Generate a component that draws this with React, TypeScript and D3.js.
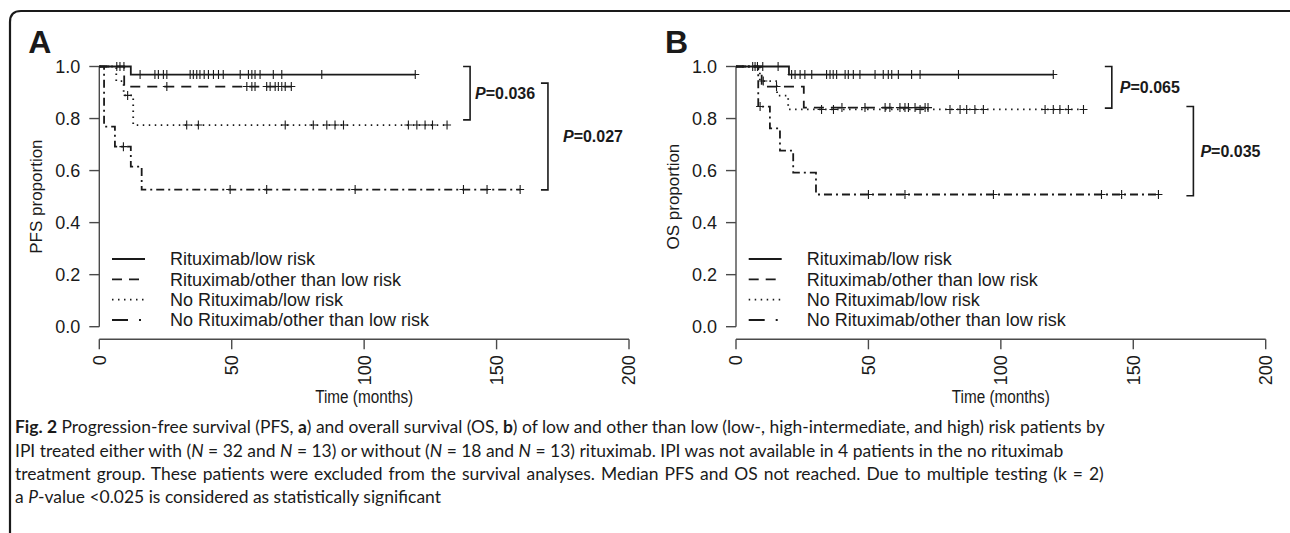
import React, { useLayoutEffect, useRef, useState } from 'react';
import * as d3 from 'd3';

const W = 1290;
const H = 533;

const timeTicks = [0, 50, 100, 150, 200];
const propTicks = [0, 0.2, 0.4, 0.6, 0.8, 1.0];
const groupLabels = [
  'Rituximab/low risk',
  'Rituximab/other than low risk',
  'No Rituximab/low risk',
  'No Rituximab/other than low risk',
];
const curveDash = ['none', '10,7', '1.5,4.5', '8,4,2,4'];
const legendDash = ['none', '10,7', '1.5,4.5', '16,11,2,11'];

// ---- PFS (panel A) ----
const pfsRLowTimes = [11.9];
const pfsRLowSurv = [0.969];
const pfsRLowCens = [6.6, 7.8, 9.3, 15.4, 21, 22.3, 24.2, 25.5, 34.3, 35.5, 36.8, 38, 39.6, 41.2, 43.1, 45, 46.8, 53.2, 56.3, 57.6, 58.8, 60.7, 65.7, 68.9, 84, 119.3];

const pfsROtherTimes = [9.4];
const pfsROtherSurv = [0.923];
const pfsROtherCens = [25.5, 55.7, 57.6, 58.8, 63.2, 64.5, 66.4, 67.6, 68.9, 70.2, 72.5];

const pfsNoLowTimes = [6.4, 9.2, 12.8];
const pfsNoLowSurv = [0.944, 0.889, 0.775];
const pfsNoLowCens = [10.7, 33, 37.4, 70.2, 80.8, 85.9, 89, 92.2, 116.7, 119.9, 123, 125.8, 131.3];

const pfsNoOtherTimes = [1.8, 5.9, 11.9, 16];
const pfsNoOtherSurv = [0.769, 0.692, 0.615, 0.527];
const pfsNoOtherCens = [9.1, 49.4, 63.2, 96.6, 137.5, 146.4, 158.9];

// ---- OS (panel B) ----
const osRLowTimes = [20];
const osRLowSurv = [0.969];
const osRLowCens = [6.3, 7.2, 8.1, 10.1, 15.9, 21, 22.3, 24.2, 26, 28.6, 34.2, 35.5, 36.7, 38, 41.2, 42.4, 44.3, 46.8, 52.5, 55.6, 57.5, 58.8, 61.3, 66.3, 69.5, 84, 119.8];

const osROtherTimes = [9.7, 25.6];
const osROtherSurv = [0.923, 0.842];
const osROtherCens = [15.3, 40, 48.7, 56.3, 58.1, 61.9, 63.8, 65.1, 67.6, 71.4, 72.5];

const osNoLowTimes = [9, 15.5, 19.7];
const osNoLowSurv = [0.944, 0.888, 0.835];
const osNoLowCens = [10.3, 32.3, 36.8, 69.5, 80.8, 84.6, 87.1, 90.2, 93.4, 116.7, 119.8, 122.3, 125.5, 131.2];

const osNoOtherTimes = [8.4, 12.8, 16.6, 21.6, 30.2];
const osNoOtherSurv = [0.846, 0.762, 0.677, 0.592, 0.508];
const osNoOtherCens = [9.1, 50, 63.8, 97.2, 138, 145.6, 159.5];

// p-value brackets: time position, top / bottom proportion
const pfsBrackets = [
  { t: 140.0, top: 1.0, bottom: 0.795, p: '0.036', gap: 5 },
  { t: 169.4, top: 0.936, bottom: 0.526, p: '0.027', gap: 15 },
];
const osBrackets = [
  { t: 141.9, top: 1.0, bottom: 0.84, p: '0.065', gap: 8 },
  { t: 172.7, top: 0.846, bottom: 0.503, p: '0.035', gap: 7 },
];

interface Series { times: number[]; surv: number[]; cens: number[] }

const pfsSeries: Series[] = [
  { times: pfsRLowTimes, surv: pfsRLowSurv, cens: pfsRLowCens },
  { times: pfsROtherTimes, surv: pfsROtherSurv, cens: pfsROtherCens },
  { times: pfsNoLowTimes, surv: pfsNoLowSurv, cens: pfsNoLowCens },
  { times: pfsNoOtherTimes, surv: pfsNoOtherSurv, cens: pfsNoOtherCens },
];
const osSeries: Series[] = [
  { times: osRLowTimes, surv: osRLowSurv, cens: osRLowCens },
  { times: osROtherTimes, surv: osROtherSurv, cens: osROtherCens },
  { times: osNoLowTimes, surv: osNoLowSurv, cens: osNoLowCens },
  { times: osNoOtherTimes, surv: osNoOtherSurv, cens: osNoOtherCens },
];

const INK = '#1a1a1a';
const AXIS = '#4a4a4a';
const FONT = '"Liberation Sans", Arial, Helvetica, sans-serif';

const survAt = (s: Series, t: number) => {
  const i = d3.bisectRight(s.times, t);
  return i === 0 ? 1 : s.surv[i - 1];
};

const Panel: React.FC<{ x0: number; letter: string; ylab: string; series: Series[]; brackets: typeof pfsBrackets }> = ({ x0, letter, ylab, series, brackets }) => {
  const x = d3.scaleLinear().domain([0, 200]).range([x0, x0 + 529.7]);
  const y = d3.scaleLinear().domain([0, 1]).range([326.7, 66.5]);
  const axisY = 339.3;

  const line = d3.line<[number, number]>()
    .x(d => x(d[0]))
    .y(d => y(d[1]))
    .curve(d3.curveStepAfter);

  const legendRows = [259, 279.3, 299.6, 320];

  return (
    <g>
      <text x={x0 - 71} y={53} fontSize={32} fontWeight="bold" fill={INK} fontFamily={FONT}>{letter}</text>

      {/* y axis */}
      <line x1={x0} x2={x0} y1={y(0)} y2={y(1)} stroke={AXIS} strokeWidth={1.4} />
      {propTicks.map(v => (
        <g key={v}>
          <line x1={x0 - 10} x2={x0} y1={y(v)} y2={y(v)} stroke={AXIS} strokeWidth={1.4} />
          <text x={x0 - 19} y={y(v)} dy="0.36em" textAnchor="end" fontSize={18} fill={INK} fontFamily={FONT}>{v.toFixed(1)}</text>
        </g>
      ))}
      <text transform={`translate(${x0 - 63},${(y(0) + y(1)) / 2}) rotate(-90)`} dy="0.36em" textAnchor="middle" fontSize={17} fill={INK} fontFamily={FONT}>{ylab}</text>

      {/* x axis */}
      <line x1={x(0)} x2={x(200)} y1={axisY} y2={axisY} stroke={AXIS} strokeWidth={1.4} />
      {timeTicks.map(v => (
        <g key={v}>
          <line x1={x(v)} x2={x(v)} y1={axisY} y2={axisY + 10} stroke={AXIS} strokeWidth={1.4} />
          <text transform={`translate(${x(v)},${axisY + 16}) rotate(-90)`} dy="0.36em" textAnchor="end" fontSize={18} fill={INK} fontFamily={FONT}>{v}</text>
        </g>
      ))}
      <text x={(x(0) + x(200)) / 2 - 49} y={403} textLength={98} lengthAdjust="spacingAndGlyphs" fontSize={17.5} fill={INK} fontFamily={FONT}>Time (months)</text>

      {/* curves */}
      {series.map((s, i) => {
        const end = Math.max(d3.max(s.cens) ?? 0, d3.max(s.times) ?? 0);
        const pts: [number, number][] = [[0, 1], ...s.times.map((t, k) => [t, s.surv[k]] as [number, number]), [end, s.surv[s.surv.length - 1]]];
        return (
          <g key={i}>
            <path d={line(pts) ?? ''} fill="none" stroke={INK} strokeWidth={1.8} strokeDasharray={curveDash[i]} />
            {s.cens.map((t, k) => {
              const cx = x(t);
              const cy = y(survAt(s, t));
              return (
                <path key={k} d={`M${cx - 4},${cy}H${cx + 4}M${cx},${cy - 4.5}V${cy + 4.5}`} stroke={INK} strokeWidth={1.1} fill="none" />
              );
            })}
          </g>
        );
      })}

      {/* brackets */}
      {brackets.map((b, i) => {
        const bx = x(b.t);
        const y1 = y(b.top);
        const y2 = y(b.bottom);
        return (
          <g key={i}>
            <path d={`M${bx - 7},${y1}H${bx}V${y2}H${bx - 7}`} fill="none" stroke={INK} strokeWidth={1.6} />
            <text x={bx + b.gap} y={(y1 + y2) / 2} dy="0.36em" fontSize={16} fontWeight="bold" fill={INK} fontFamily={FONT}>
              <tspan fontStyle="italic">P</tspan>={b.p}
            </text>
          </g>
        );
      })}

      {/* legend */}
      {groupLabels.map((lab, i) => (
        <g key={lab}>
          <line x1={x0 + 12.7} x2={x0 + 45.7} y1={legendRows[i]} y2={legendRows[i]} stroke={INK} strokeWidth={1.8} strokeDasharray={legendDash[i]} />
          <text x={x0 + 70.7} y={legendRows[i]} dy="0.36em" fontSize={18} fill={INK} fontFamily={FONT}>{lab}</text>
        </g>
      ))}
    </g>
  );
};

const CAP_FONT = 'Lato, "Open Sans", sans-serif';
// right edges of the justified caption lines (last line is left at natural width)
const capWidths = [1091, 1013, 1090, 385];
const capBaselines = [433.3, 456.7, 480, 503.3];

const App: React.FC = () => {
  const refs = useRef<(SVGTextElement | null)[]>([]);
  const [fit, setFit] = useState({ sx: 1, ws: [0, 0, 0, 0], ready: false });

  useLayoutEffect(() => {
    if (fit.ready) return;
    const lens = refs.current.map(el => (el ? el.getComputedTextLength() : 0));
    if (!lens[0]) return;
    // horizontal scale chosen from the two full justified lines
    const sx = Math.min(capWidths[0] / lens[0], capWidths[2] / lens[2]);
    const ws = refs.current.map((el, i) => {
      if (!el || i === 3) return 0;
      const spaces = (el.textContent || '').split(' ').length - 1;
      return Math.max(0, (capWidths[i] / sx - lens[i]) / Math.max(1, spaces));
    });
    setFit({ sx, ws, ready: true });
  }, [fit.ready]);

  const setRef = (i: number) => (el: SVGTextElement | null) => { refs.current[i] = el; };

  return (
    <svg width={W} height={H} style={{ position: 'absolute', left: 0, top: 0, display: 'block', background: '#fff' }}>
      <rect width={W} height={H} fill="#fff" />
      <path d="M10,540 L10,22 Q10,11 21,11 L1295,11" fill="none" stroke={INK} strokeWidth={2.2} />

      <Panel x0={99.3} letter="A" ylab="PFS proportion" series={pfsSeries} brackets={pfsBrackets} />
      <Panel x0={736} letter="B" ylab="OS proportion" series={osSeries} brackets={osBrackets} />

      <g transform={`translate(15,0) scale(${fit.sx},1)`} fontFamily={CAP_FONT} fontSize={17} fill={INK}>
        <text ref={setRef(0)} x={0} y={capBaselines[0]} wordSpacing={fit.ws[0]}>
          <tspan fontWeight="bold">Fig. 2</tspan> Progression-free survival (PFS, <tspan fontWeight="bold">a</tspan>) and overall survival (OS, <tspan fontWeight="bold">b</tspan>) of low and other than low (low-, high-intermediate, and high) risk patients by
        </text>
        <text ref={setRef(1)} x={0} y={capBaselines[1]} wordSpacing={fit.ws[1]}>
          IPI treated either with (<tspan fontStyle="italic">N</tspan> = 32 and <tspan fontStyle="italic">N</tspan> = 13) or without (<tspan fontStyle="italic">N</tspan> = 18 and <tspan fontStyle="italic">N</tspan> = 13) rituximab. IPI was not available in 4 patients in the no rituximab
        </text>
        <text ref={setRef(2)} x={0} y={capBaselines[2]} wordSpacing={fit.ws[2]}>
          treatment group. These patients were excluded from the survival analyses. Median PFS and OS not reached. Due to multiple testing (k = 2)
        </text>
        <text ref={setRef(3)} x={0} y={capBaselines[3]}>
          a <tspan fontStyle="italic">P</tspan>-value &lt;0.025 is considered as statistically significant
        </text>
      </g>
    </svg>
  );
};

export default App;
